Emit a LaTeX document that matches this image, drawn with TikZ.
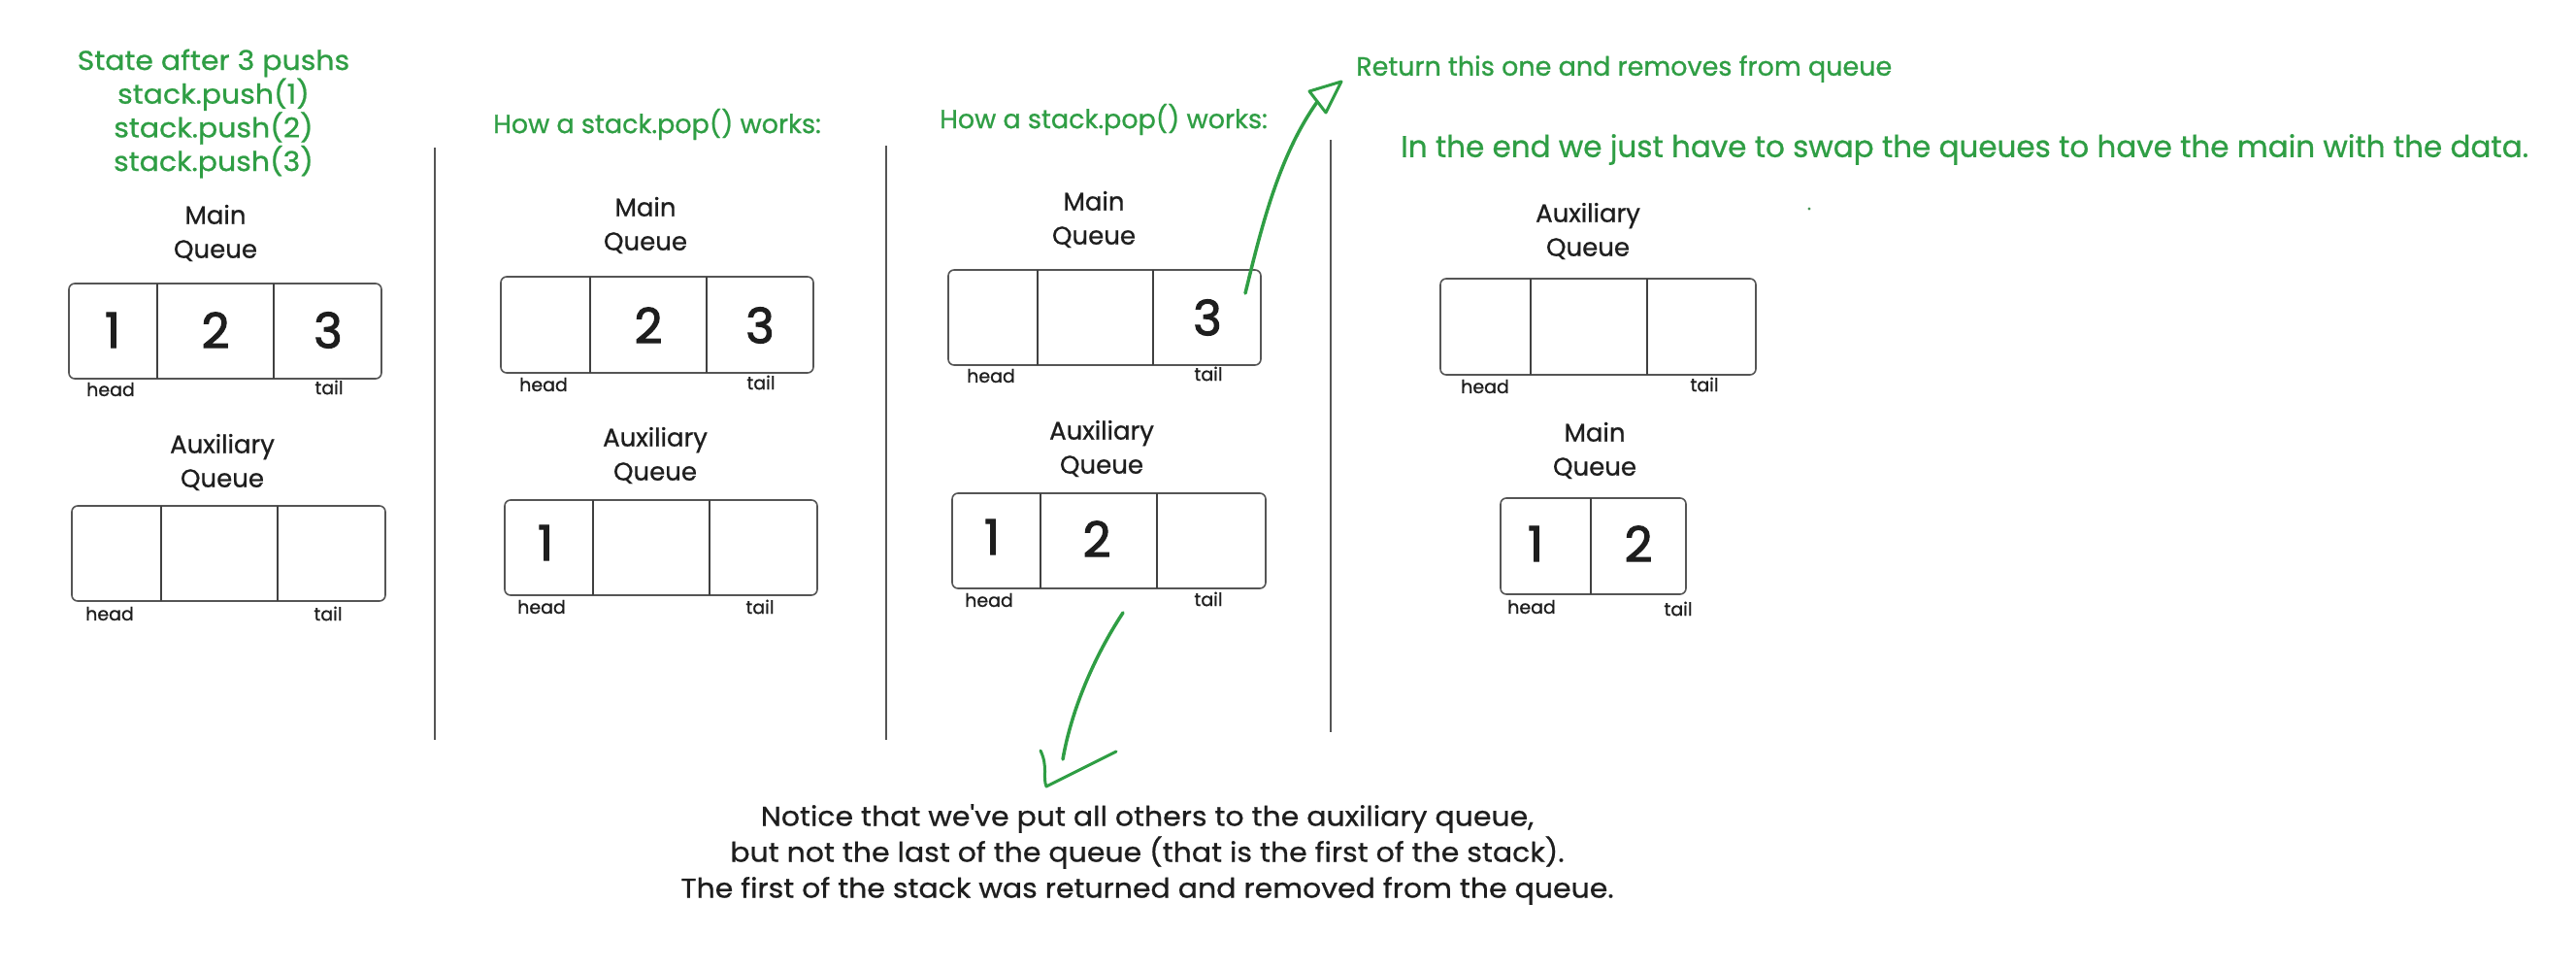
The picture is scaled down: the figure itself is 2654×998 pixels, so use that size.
\documentclass[tikz,border=0pt]{standalone}
\usepackage{fontspec}
\setmainfont{Poppins}[FakeBold=0.8]
\newfontfamily\numfont{Poppins}[FakeBold=2.2]
\newfontfamily\widefont{Poppins}[FakeBold=0.8, FakeStretch=1.07]
\usetikzlibrary{calc}
\definecolor{exgreen}{HTML}{2F9E44}
\definecolor{ink}{HTML}{1E1E1E}
\definecolor{boxline}{HTML}{555555}
\begin{document}
\begin{tikzpicture}[x=1pt,y=-1pt,
  txt/.style={text=ink, inner sep=0pt, align=center, font=\fontsize{26}{35}\selectfont},
  gtxt/.style={text=exgreen, inner sep=0pt, align=center, font=\fontsize{27}{34.7}\selectfont},
  num/.style={text=ink, inner sep=0pt, font=\numfont\fontsize{50}{50}\selectfont},
  ht/.style={text=ink, inner sep=0pt, font=\fontsize{19}{19}\selectfont},
  qbox/.style={draw=boxline, line width=1.6pt, rounded corners=6pt, inner sep=0pt},
  cellline/.style={draw=ink!85, line width=1.4pt},
  sep/.style={draw=boxline, line width=2pt},
  garrow/.style={draw=exgreen, line width=3.5pt, line cap=round, line join=round},
]
\useasboundingbox[fill=white] (0,0) rectangle (2654,998);

% ---------- separators ----------
\coordinate (s1t) at (448,152); \coordinate (s1b) at (448,762);
\coordinate (s2t) at (913,150); \coordinate (s2b) at (913,762);
\coordinate (s3t) at (1371,144); \coordinate (s3b) at (1371,754);
\draw[sep] (s1t) -- (s1b);
\draw[sep] (s2t) -- (s2b);
\draw[sep] (s3t) -- (s3b);

% ---------- panel 1 ----------
\node[gtxt, font=\widefont\fontsize{28}{34.7}\selectfont] (title1) at (220,117) {State after 3 pushs\\stack.push(1)\\stack.push(2)\\stack.push(3)};
\node[txt] (lm1) at (222,240) {Main\\Queue};
\node[qbox, minimum width=322pt, minimum height=98pt] (m1) at (232,341) {};
\draw[cellline] (162,292) -- (162,390);
\draw[cellline] (282,292) -- (282,390);
\node[num] (m1a) at (116,340) {1};
\node[num] (m1b) at (222,340) {2};
\node[num] (m1c) at (338,340) {3};
\node[ht] (m1h) at (114,401) {head};
\node[ht] (m1t) at (339,399) {tail};
\node[txt] (la1) at (229,476) {Auxiliary\\Queue};
\node[qbox, minimum width=323pt, minimum height=98pt] (a1) at (235.5,570) {};
\draw[cellline] (166,521) -- (166,619);
\draw[cellline] (286,521) -- (286,619);
\node[ht] (a1h) at (113,632) {head};
\node[ht] (a1t) at (338,632) {tail};

% ---------- panel 2 ----------
\node[gtxt] (title2) at (677,128) {How a stack.pop() works:};
\node[txt] (lm2) at (665,232) {Main\\Queue};
\node[qbox, minimum width=322pt, minimum height=99pt] (m2) at (677,334.5) {};
\draw[cellline] (608,285) -- (608,384);
\draw[cellline] (728,285) -- (728,384);
\node[num] (m2b) at (668,335) {2};
\node[num] (m2c) at (783,335) {3};
\node[ht] (m2h) at (560,396) {head};
\node[ht] (m2t) at (784,394) {tail};
\node[txt] (la2) at (675,469) {Auxiliary\\Queue};
\node[qbox, minimum width=322pt, minimum height=98pt] (a2) at (681,564) {};
\draw[cellline] (611,515) -- (611,613);
\draw[cellline] (731,515) -- (731,613);
\node[num] (a2a) at (562,559) {1};
\node[ht] (a2h) at (558,625) {head};
\node[ht] (a2t) at (783,625) {tail};

% ---------- panel 3 ----------
\node[gtxt] (title3) at (1137,123) {How a stack.pop() works:};
\node[txt] (lm3) at (1127,226) {Main\\Queue};
\node[qbox, minimum width=322pt, minimum height=98pt] (m3) at (1138,327) {};
\draw[cellline] (1069,278) -- (1069,376);
\draw[cellline] (1188,278) -- (1188,376);
\node[num] (m3c) at (1244,327) {3};
\node[ht] (m3h) at (1021,387) {head};
\node[ht] (m3t) at (1245,385) {tail};
\node[txt] (la3) at (1135,462) {Auxiliary\\Queue};
\node[qbox, minimum width=323pt, minimum height=98pt] (a3) at (1142.5,557) {};
\draw[cellline] (1072,508) -- (1072,606);
\draw[cellline] (1192,508) -- (1192,606);
\node[num] (a3a) at (1022,553) {1};
\node[num] (a3b) at (1130,555) {2};
\node[ht] (a3h) at (1019,618) {head};
\node[ht] (a3t) at (1245,617) {tail};

% ---------- panel 4 ----------
\node[gtxt, anchor=west] (ret) at (1397,71) {Return this one and removes from queue};
\node[gtxt, anchor=west, font=\fontsize{31}{34}\selectfont] (endnote) at (1443,154) {In the end we just have to swap the queues to have the main with the data.};
\fill[exgreen!70!gray] (1864,215) circle (1.6pt);
\node[txt] (la4) at (1636,238) {Auxiliary\\Queue};
\node[qbox, minimum width=325pt, minimum height=99pt] (a4) at (1646.5,336.5) {};
\draw[cellline] (1577,287) -- (1577,386);
\draw[cellline] (1697,287) -- (1697,386);
\node[ht] (a4h) at (1530,398) {head};
\node[ht] (a4t) at (1756,396) {tail};
\node[txt] (lm4) at (1643,464) {Main\\Queue};
\node[qbox, minimum width=191pt, minimum height=99pt] (m4) at (1641.5,562.5) {};
\draw[cellline] (1639,513) -- (1639,612);
\node[num] (m4a) at (1582,560) {1};
\node[num] (m4b) at (1688,560) {2};
\node[ht] (m4h) at (1578,625) {head};
\node[ht] (m4t) at (1729,627) {tail};

% ---------- bottom note ----------
\node[txt, font=\widefont\fontsize{28}{37}\selectfont] (note) at (1182,880) {Notice that we've put all others to the auxiliary queue,\\but not the last of the queue (that is the first of the stack).\\The first of the stack was returned and removed from the queue.};

% ---------- arrows ----------
\coordinate (up0) at (1283,302);
\coordinate (up1) at (1357,105);
\coordinate (uptip) at (1382,84);
\coordinate (upl) at (1349,94);
\coordinate (upr) at (1366,116);
\draw[garrow] (up0) .. controls (1300,232) and (1318,160) .. (up1);
\draw[garrow, line width=3pt] (uptip) -- (upl) -- (upr) -- cycle;

\coordinate (dn0) at (1157,631);
\coordinate (dn1) at (1095,782);
\coordinate (dnl) at (1072,773);
\coordinate (dnv) at (1078,810);
\coordinate (dnr) at (1150,774);
\draw[garrow] (dn0) .. controls (1128,675) and (1104,730) .. (dn1);
\draw[garrow, line width=3pt] (dnl) .. controls (1080,790) and (1074,800) .. (dnv) -- (dnr);
\end{tikzpicture}
\end{document}
